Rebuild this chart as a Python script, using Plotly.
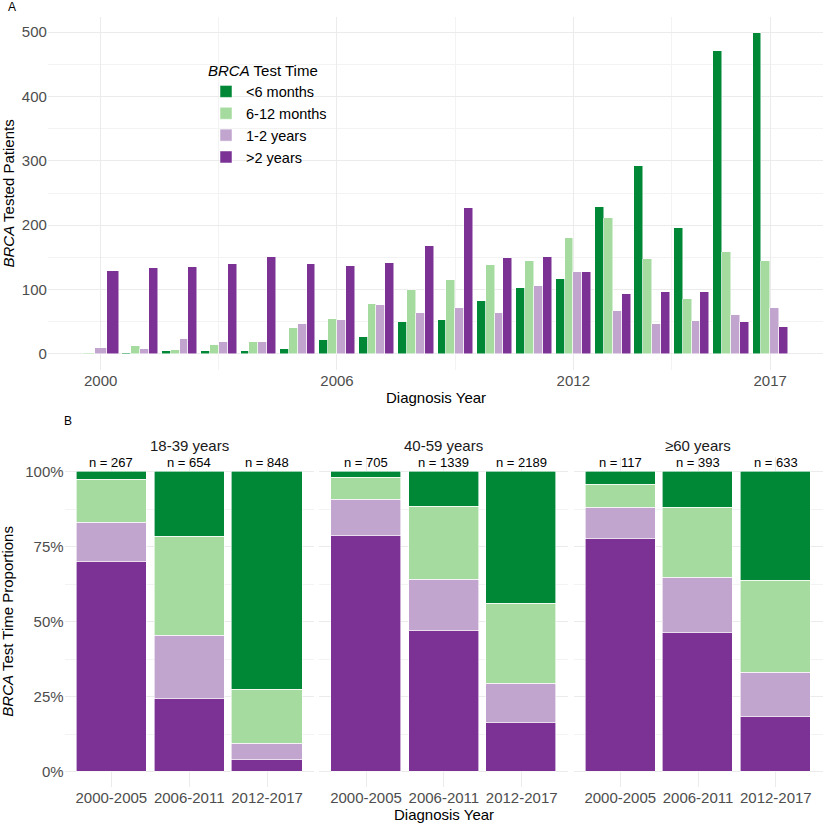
import plotly.graph_objects as go

# ---------------- Panel A data ----------------
years = list(range(2000, 2018))
cat_names = ["<6 months", "6-12 months", "1-2 years", ">2 years"]
cat_colors = ["#008837", "#a6dba0", "#c2a5cf", "#7b3294"]

a_lt6 = [None, 2, 4, 5, 4, 7, 22, 26, 49, 53, 82, 103, 116, 229, 292, 195, 471, 498]
a_6_12 = [2, 13, 6, 14, 18, 40, 55, 78, 99, 115, 138, 144, 180, 211, 148, 85, 158, 145]
a_1_2 = [10, 8, 24, 18, 19, 47, 52, 76, 64, 72, 63, 105, 128, 66, 47, 51, 60, 72]
a_gt2 = [129, 134, 135, 140, 150, 139, 136, 141, 168, 226, 149, 150, 127, 93, 96, 96, 49, 42]

a_xticks = [2000, 2006, 2012, 2017]
a_xminor = [2003, 2009, 2014.5]
a_yticks = [0, 100, 200, 300, 400, 500]

# ---------------- Panel B data ----------------
periods = ["2000-2005", "2006-2011", "2012-2017"]
age_groups = ["18-39 years", "40-59 years", "\u226560 years"]
n_counts = [[267, 654, 848], [705, 1339, 2189], [117, 393, 633]]
# segment shares [age group][period]
b_lt6 = [[0.027, 0.217, 0.725], [0.020, 0.117, 0.440], [0.043, 0.119, 0.364]]
b_6_12 = [[0.143, 0.330, 0.181], [0.072, 0.244, 0.267], [0.077, 0.234, 0.307]]
b_1_2 = [[0.130, 0.210, 0.055], [0.122, 0.168, 0.130], [0.103, 0.185, 0.147]]
b_gt2 = [[0.700, 0.243, 0.039], [0.786, 0.471, 0.163], [0.777, 0.462, 0.182]]
b_yticks = [0, 0.25, 0.5, 0.75, 1.0]
b_yticktext = ["0%", "25%", "50%", "75%", "100%"]

FONT = "Liberation Sans, Arial, sans-serif"
TICKC = "#4D4D4D"
GRID = "#EBEBEB"
GRIDMIN = "#F3F3F3"

W = H = 823


def px_x(p):
    return p / W


def px_y(p):
    return 1 - p / H


fig = go.Figure()

# ---- Panel A: dodged bars, width split among categories present each year ----
a_series = [a_lt6, a_6_12, a_1_2, a_gt2]
for ci, (name, col, vals) in enumerate(zip(cat_names, cat_colors, a_series)):
    xs, ys, ws = [], [], []
    for yi, yr in enumerate(years):
        present = [k for k in range(4) if a_series[k][yi] is not None]
        if vals[yi] is None:
            continue
        m = len(present)
        w = 0.9 / m
        idx = present.index(ci)
        xs.append(yr - 0.45 + w * (idx + 0.5))
        ys.append(vals[yi])
        ws.append(w)
    fig.add_trace(go.Bar(
        x=xs, y=ys, width=ws, name=name, legendgroup=name,
        marker=dict(color=col, line=dict(color="white", width=0.5)),
        xaxis="x", yaxis="y", showlegend=True,
    ))

# ---- Panel B: stacked proportions per age facet ----
b_series = [b_gt2, b_1_2, b_6_12, b_lt6]
b_cols = [cat_colors[3], cat_colors[2], cat_colors[1], cat_colors[0]]
b_names = [cat_names[3], cat_names[2], cat_names[1], cat_names[0]]
for gi in range(3):
    for vals, col, name in zip(b_series, b_cols, b_names):
        fig.add_trace(go.Bar(
            x=periods, y=vals[gi], width=0.9, name=name, legendgroup=name,
            marker=dict(color=col, line=dict(color="white", width=0.6)),
            xaxis=f"x{gi + 2}", yaxis=f"y{gi + 2}", showlegend=False,
        ))

layout = dict(
    width=W, height=H,
    margin=dict(l=0, r=0, t=0, b=0),
    paper_bgcolor="white", plot_bgcolor="white",
    barmode="stack", bargap=0,
    font=dict(family=FONT, size=15, color="black"),
    showlegend=True,
    legend=dict(
        x=px_x(206), y=px_y(56), xanchor="left", yanchor="top",
        bgcolor="rgba(0,0,0,0)",
        title=dict(text="<i>BRCA</i> Test Time", font=dict(size=15, color="black")),
        font=dict(size=14.5, color="black"),
        traceorder="normal",
    ),
    xaxis=dict(
        domain=[px_x(47.9), 1.0], anchor="y", range=[1998.66, 2018.34],
        tickmode="array", tickvals=a_xticks, ticktext=[str(v) for v in a_xticks],
        showgrid=True, gridcolor=GRID, gridwidth=1.1, zeroline=False, showline=False,
        ticks="", tickfont=dict(size=15, color=TICKC),
        minor=dict(tickmode="array", tickvals=a_xminor, showgrid=True, gridcolor=GRIDMIN, gridwidth=0.6),
        automargin=False,
    ),
    yaxis=dict(
        domain=[px_y(370), px_y(17)], anchor="x", range=[-24.9, 523.4],
        tickmode="array", tickvals=a_yticks,
        showgrid=True, gridcolor=GRID, gridwidth=1.1, zeroline=False, showline=False,
        ticks="", tickfont=dict(size=15, color=TICKC),
        minor=dict(dtick=50, tick0=0, showgrid=True, gridcolor=GRIDMIN, gridwidth=0.6),
        automargin=False,
    ),
)

b_dom = [(64.6, 313.8), (319.3, 568.4), (573.6, 822.5)]
for gi in range(3):
    k = gi + 2
    layout[f"xaxis{k}"] = dict(
        domain=[px_x(b_dom[gi][0]), px_x(b_dom[gi][1])], anchor=f"y{k}",
        type="category", categoryorder="array", categoryarray=periods,
        range=[-0.6, 2.6], showgrid=True, gridcolor=GRID, gridwidth=1.1,
        zeroline=False, showline=False, ticks="",
        tickfont=dict(size=15, color=TICKC), automargin=False,
    )
    yd = dict(
        domain=[px_y(786.7), px_y(456.7)], anchor=f"x{k}", range=[-0.05, 1.05],
        tickmode="array", tickvals=b_yticks, ticktext=b_yticktext,
        showgrid=True, gridcolor=GRID, gridwidth=1.1, zeroline=False, showline=False,
        ticks="", tickfont=dict(size=15, color=TICKC),
        minor=dict(tickmode="array", tickvals=[0.125, 0.375, 0.625, 0.875],
                   showgrid=True, gridcolor=GRIDMIN, gridwidth=0.6),
        showticklabels=(gi == 0), automargin=False,
    )
    if gi > 0:
        yd["matches"] = "y2"
    layout[f"yaxis{k}"] = yd

fig.update_layout(**layout)


def note(text, xp, yp, size=15, color="black", angle=0):
    return dict(text=text, x=px_x(xp), y=px_y(yp), xref="paper", yref="paper",
                xanchor="center", yanchor="middle", showarrow=False, textangle=angle,
                font=dict(size=size, color=color))


ann = [
    note("A", 12, 7, size=12),
    note("B", 68, 421, size=12),
    note("Diagnosis Year", 435.5, 397),
    note("<i>BRCA</i> Tested Patients", 8, 193.5, angle=-90),
    note("Diagnosis Year", 443.5, 814),
    note("<i>BRCA</i> Test Time Proportions", 8, 621.7, angle=-90),
]
for gi in range(3):
    ann.append(note(age_groups[gi], (b_dom[gi][0] + b_dom[gi][1]) / 2, 445.7, color="#1A1A1A"))
    for pi, p in enumerate(periods):
        ann.append(dict(text=f"n = {n_counts[gi][pi]}", x=p, y=1.0,
                        xref=f"x{gi + 2}", yref=f"y{gi + 2}", xanchor="center",
                        yanchor="bottom", yshift=0, showarrow=False,
                        font=dict(size=13, color="black")))
fig.update_layout(annotations=ann)

fig.write_html("out.html", config={"displayModeBar": False},
               post_script="document.body.style.margin='0';")
